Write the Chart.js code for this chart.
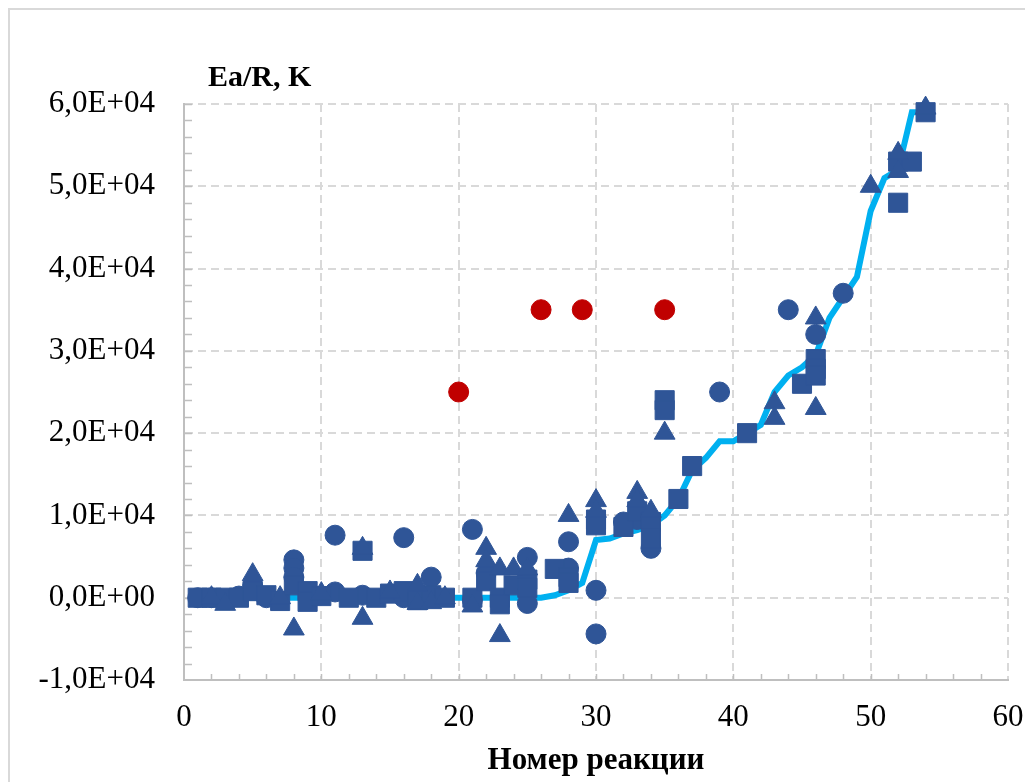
<!DOCTYPE html>
<html>
<head>
<meta charset="utf-8">
<script src="https://cdn.jsdelivr.net/npm/chart.js@4/dist/chart.umd.min.js"></script>
<style>
  body { margin: 0; background: #fff; }
</style>
</head>
<body>
<canvas id="chartEa" width="1025" height="782"></canvas>
<script>
// Расчетная кривая (номер реакции -> Ea/R)
const lineX = [1, 2, 3, 4, 5, 6, 7, 8, 9, 10, 11, 12, 13, 14, 15, 16, 17, 18, 19, 20, 21, 22, 23, 24, 25, 26, 27,
  28, 29, 30, 31, 32, 33, 34, 35, 36, 37, 38, 39, 40, 41, 42, 43, 44, 45, 46, 47, 48, 49, 50, 51, 52, 53, 54]
const lineY = [0, 0, 0, 0, 0, 0, 0, 0, 0, 0, 0, 0, 0, 0, 0, 0, 0, 0, 0, 0, 0, 0, 0, 0, 0, 0, 300,
  900, 1800, 7000, 7200, 7800, 8200, 8800, 10000, 12000, 15500, 17000, 19000, 19000, 20000, 21000, 25000, 27000,
  28000, 29500, 34000, 36500, 39000, 47000, 51000, 52000, 59000, 59000]

// круги
const circleX = [1, 2, 4, 5, 6, 8, 8, 8, 11, 11, 13, 16, 16, 18, 21, 21, 22, 25, 25, 28, 28, 30, 30, 32, 33, 34, 39, 44, 46, 48]
const circleY = [0, 0, 200, 1500, 0, 4600, 3600, 2500, 7600, 700, 300, 7300, 0, 2500, 8300, -300, 3000, 4900, -700,
  6800, 3600, 900, -4400, 9200, 9500, 6000, 25000, 35000, 32000, 37000]

// квадраты
const squareX = [1, 2, 3, 4, 5, 6, 7, 8, 9, 9, 10, 12, 13, 14, 15, 16, 17, 18, 19, 21, 22, 23, 23, 24, 25, 25, 27, 28, 28,
  30, 30, 32, 33, 34, 34, 35, 35, 36, 37, 41, 45, 46, 46, 46, 52, 52, 53, 54]
const squareY = [0, 0, 0, 0, 800, 300, -400, 1500, 800, -500, 200, 0, 5700, 0, 500, 800, -300, 300, 0, 0, 2000, 0, -800,
  1500, 2200, 1200, 3500, 2500, 1800, 9500, 8800, 8600, 10500, 9200, 7200, 24000, 22800, 12000, 16000, 20000, 26000,
  29000, 27800, 27000, 53000, 48000, 53000, 59000]

// треугольники
const triangleX = [2, 3, 5, 7, 8, 10, 13, 13, 15, 17, 17, 18, 19, 21, 22, 22, 23, 23, 24, 25, 28, 30, 30, 33, 33, 34, 35,
  43, 43, 46, 46, 50, 52, 52, 54]
const triangleY = [0, -800, 2800, 0, -3800, 500, 6000, -2500, 700, 1500, -700, -600, 0, -1000, 6000, 4500, 3500, -4600,
  3500, 3500, 10000, 11800, 10500, 12800, 11800, 10500, 20000, 23700, 21800, 34000, 23000, 50000, 54000, 51800, 59500]

// выпадающие точки
const outlierX = [20, 26, 29, 35]
const outlierY = [25000, 35000, 35000, 35000]

const toPoints = (xs, ys) => xs.map((x, i) => ({ x: x, y: ys[i] }))

const blue = '#2F5597'
const serif = 'Liberation Serif'

function expLabel(v) {
  if (v === 0) return '0,0E+00'
  const e = Math.floor(Math.log10(Math.abs(v)))
  const m = v / Math.pow(10, e)
  return m.toFixed(1).replace('.', ',') + 'E+' + String(e).padStart(2, '0')
}

const framePlugin = {
  id: 'frame',
  beforeDraw(chart) {
    const c = chart.ctx
    c.save()
    c.fillStyle = '#fff'
    c.fillRect(0, 0, chart.width, chart.height)
    c.strokeStyle = '#D9D9D9'
    c.lineWidth = 2
    c.strokeRect(9, 9, chart.width + 20, chart.height + 20)
    c.restore()
  },
  beforeDatasetsDraw(chart) {
    // мелкие засечки внутрь области
    const c = chart.ctx
    const xs = chart.scales.x, ys = chart.scales.y
    const area = chart.chartArea
    c.save()
    c.strokeStyle = '#BFBFBF'
    c.lineWidth = 1.5
    c.beginPath()
    for (let v = 2; v < 60; v += 2) {
      const px = Math.round(xs.getPixelForValue(v)) + 0.5
      c.moveTo(px, area.bottom)
      c.lineTo(px, area.bottom - 6)
    }
    for (let v = -8000; v <= 60000; v += 2000) {
      const py = Math.round(ys.getPixelForValue(v)) + 0.5
      c.moveTo(area.left, py)
      c.lineTo(area.left + 8, py)
    }
    c.stroke()
    c.restore()
  },
  afterDraw(chart) {
    const c = chart.ctx
    c.save()
    c.fillStyle = '#000'
    c.font = 'bold 30px "' + serif + '"'
    c.textBaseline = 'alphabetic'
    c.fillText('Ea/R, K', 208, 86)
    c.restore()
  }
}

new Chart(document.getElementById('chartEa'), {
  type: 'scatter',
  data: {
    datasets: [
      {
        data: toPoints(lineX, lineY),
        showLine: true,
        borderColor: '#00B0F0',
        borderWidth: 6,
        pointRadius: 0,
        tension: 0,
        order: 10,
        clip: false
      },
      {
        data: toPoints(circleX, circleY),
        pointStyle: 'circle',
        pointRadius: 10,
        backgroundColor: blue,
        borderColor: blue,
        borderWidth: 1,
        order: 3,
        clip: false
      },
      {
        data: toPoints(squareX, squareY),
        pointStyle: 'rect',
        pointRadius: 13.5,
        backgroundColor: blue,
        borderColor: blue,
        borderWidth: 1,
        order: 2,
        clip: false
      },
      {
        data: toPoints(triangleX, triangleY),
        pointStyle: 'triangle',
        pointRadius: 12,
        backgroundColor: blue,
        borderColor: blue,
        borderWidth: 1,
        order: 1,
        clip: false
      },
      {
        data: toPoints(outlierX, outlierY),
        pointStyle: 'circle',
        pointRadius: 10,
        backgroundColor: '#C00000',
        borderColor: '#C00000',
        borderWidth: 1,
        order: 0,
        clip: false
      }
    ]
  },
  options: {
    responsive: false,
    animation: false,
    layout: {
      padding: { top: 104, right: 0, left: 0, bottom: 0 }
    },
    scales: {
      x: {
        type: 'linear',
        min: 0,
        max: 60,
        afterFit: (scale) => {
          scale.height = 102
          scale.paddingLeft = 0
          scale.paddingRight = 17
        },
        ticks: {
          stepSize: 10,
          color: '#000',
          padding: 19,
          font: { family: serif, size: 31 }
        },
        grid: {
          color: '#D9D9D9',
          lineWidth: 2,
          drawTicks: false
        },
        border: {
          color: '#BFBFBF',
          width: 2,
          dash: [8, 5]
        },
        title: {
          display: true,
          text: 'Номер реакции',
          color: '#000',
          padding: { top: 0, bottom: 2 },
          font: { family: serif, size: 31, weight: 'bold' }
        }
      },
      y: {
        min: -10000,
        max: 60000,
        afterFit: (scale) => { scale.width = 184 },
        ticks: {
          stepSize: 10000,
          color: '#000',
          padding: 29,
          font: { family: serif, size: 31 },
          callback: (v) => expLabel(v)
        },
        grid: {
          color: '#D9D9D9',
          lineWidth: 2,
          drawTicks: false
        },
        border: {
          color: '#BFBFBF',
          width: 2,
          dash: [8, 5]
        }
      }
    },
    plugins: {
      legend: { display: false },
      tooltip: { enabled: false }
    }
  },
  plugins: [framePlugin]
})
</script>
</body>
</html>
